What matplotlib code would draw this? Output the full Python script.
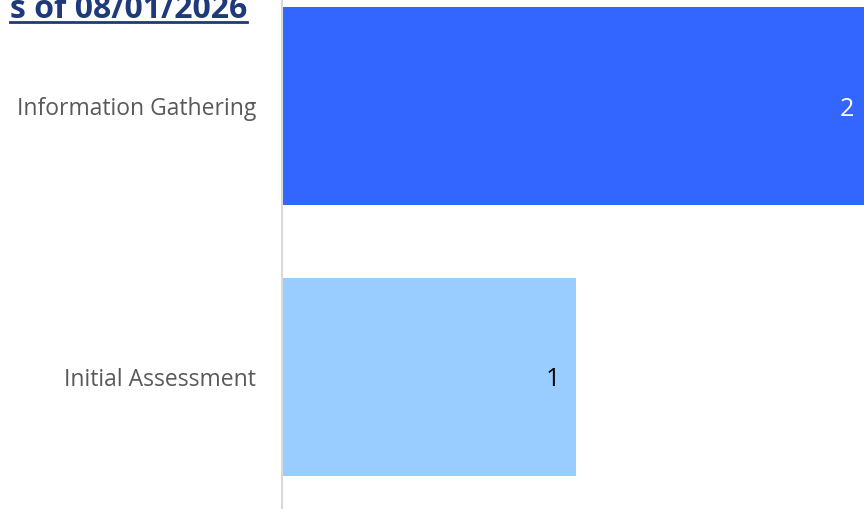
"""
Horizontal bar chart of cases by stage (cropped view)
"""
import matplotlib
matplotlib.use('Agg')
import matplotlib.pyplot as plt

# Data
stages = ['Initial Assessment', 'Information Gathering']
counts = [1, 2]
colors = ['#99CCFF', '#3366FF']
label_colors = ['black', 'white']
title = 's of 08/01/2026'

W, H = 864, 509
fig = plt.figure(figsize=(W / 100, H / 100), dpi=100)
ax = fig.add_axes([282 / W, 0, 1 - 282 / W, 1])

ypos = list(range(len(stages)))
bars = ax.barh(ypos, counts, height=0.73, color=colors)

# x scale: 1 unit = 294 px, y scale: 1 unit = 271 px
ax.set_xlim(0, (W - 282) / 294)
ax.set_ylim(-(509 - 377) / 271, 1 + 106 / 271)

for rect, val, c in zip(bars, counts, label_colors):
    ax.annotate(str(val), (rect.get_width(), rect.get_y() + rect.get_height() / 2),
                xytext=(-11.5, 0), textcoords='offset points', ha='right',
                va='center_baseline', fontsize=18, color=c, family='Open Sans',
                annotation_clip=False)

ax.set_yticks(ypos)
ax.set_yticklabels(stages, fontsize=16.5, color='#595959', family='Open Sans')
ax.tick_params(axis='y', length=0, pad=18.5)
ax.set_xticks([])
for s in ['top', 'right', 'bottom']:
    ax.spines[s].set_visible(False)
ax.spines['left'].set_color('#D9D9D9')
ax.spines['left'].set_linewidth(1.5)

# Title (cut off on the left), bold and underlined
t = fig.text(247 / W, 1 - 18 / H, title, ha='right', va='baseline',
             fontsize=23, fontweight='bold', color='#1F3A7A', family='Open Sans')
fig.canvas.draw()
bb = t.get_window_extent().transformed(fig.transFigure.inverted())
fig.add_artist(plt.Line2D([bb.x0, bb.x1], [1 - 22 / H, 1 - 22 / H],
                          transform=fig.transFigure, color='#1F3A7A', lw=2))

fig.savefig('out.png', dpi=100)
plt.close(fig)
